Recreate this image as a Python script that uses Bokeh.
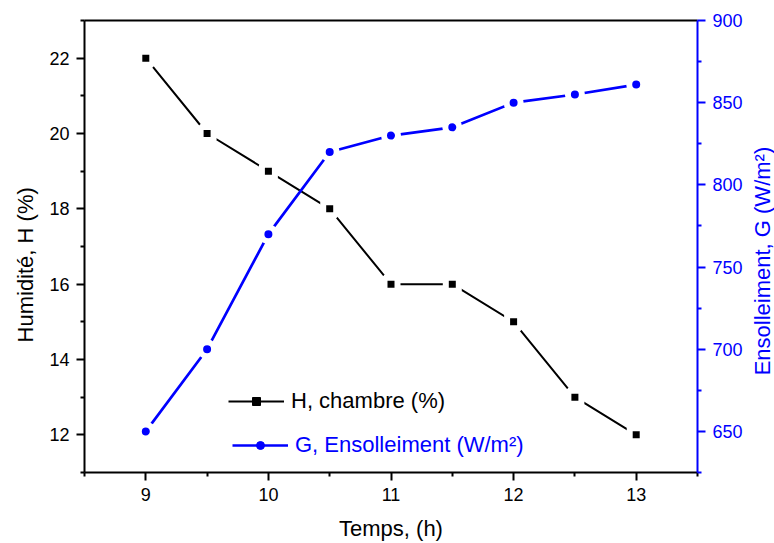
import math
from bokeh.plotting import figure
from bokeh.layouts import row
from bokeh.core.properties import value
from bokeh.models import LinearAxis, Range1d, FixedTicker, Legend, LegendItem
from bokeh.embed import file_html
from bokeh.resources import INLINE

# ---- data ----
time_h = [9, 9.5, 10, 10.5, 11, 11.5, 12, 12.5, 13]
humidity = [22, 20, 19, 18, 16, 16, 15, 13, 12]
irradiance = [650, 700, 770, 820, 830, 835, 850, 855, 861]

x_major = [9, 10, 11, 12, 13]
x_minor = [8.5, 9.5, 10.5, 11.5, 12.5, 13.5]
h_major = [12, 14, 16, 18, 20, 22]
h_minor = [11, 13, 15, 17, 19, 21, 23]
g_major = [650, 700, 750, 800, 850, 900]
g_minor = [625, 675, 725, 775, 825, 875]

label_h = "H, chambre (%)"
label_g = "G, Ensolleiment (W/m\u00b2)"
xtitle = "Temps, (h)"
ytitle = "Humidit\u00e9, H (%)"
y2title = "Ensolleiment, G (W/m\u00b2)"

FONT = "Liberation Sans"
BLUE = "#0000FF"
PAD = "\u00a0" * 6   # shifts the left title slightly below the frame centre, as in the original

W_MAIN, W_SIDE, H = 750, 24, 543

p = figure(width=W_MAIN, height=H, output_backend="svg", toolbar_location=None,
           x_range=Range1d(8.5, 13.5), y_range=Range1d(11, 23),
           min_border_left=84, min_border_right=53, min_border_top=20, min_border_bottom=70,
           outline_line_color=None, background_fill_color="white", border_fill_color="white")
p.extra_y_ranges = {"g": Range1d(625, 900)}
p.xgrid.visible = False
p.ygrid.visible = False

def style_axis(ax, color):
    ax.axis_line_color = color
    ax.axis_line_width = 2
    ax.major_tick_line_color = color
    ax.minor_tick_line_color = color
    ax.major_tick_line_width = 2
    ax.minor_tick_line_width = 2
    ax.major_tick_in = 0
    ax.major_tick_out = 8
    ax.minor_tick_in = 0
    ax.minor_tick_out = 4
    ax.major_label_text_color = color
    ax.major_label_text_font = FONT
    ax.major_label_text_font_size = "18px"
    ax.major_label_standoff = 7
    ax.axis_label_text_color = color
    ax.axis_label_text_font = FONT
    ax.axis_label_text_font_size = "22px"
    ax.axis_label_text_font_style = "normal"

xa = p.xaxis[0]
xa.ticker = FixedTicker(ticks=x_major, minor_ticks=x_minor)
xa.axis_label = xtitle
style_axis(xa, "black")
xa.axis_label_standoff = 12

ya = p.yaxis[0]
ya.ticker = FixedTicker(ticks=h_major, minor_ticks=h_minor)
ya.axis_label = ytitle + PAD
style_axis(ya, "black")
ya.axis_label_standoff = 8

ra = LinearAxis(y_range_name="g", ticker=FixedTicker(ticks=g_major, minor_ticks=g_minor))
style_axis(ra, BLUE)
p.add_layout(ra, "right")

ta = LinearAxis(ticker=FixedTicker(ticks=[], minor_ticks=[]))
ta.axis_line_color = "black"
ta.axis_line_width = 2
ta.major_tick_out = 0
ta.major_tick_in = 0
ta.minor_tick_out = 0
ta.minor_tick_in = 0
ta.major_label_text_font_size = "0px"
p.add_layout(ta, "above")

# lines
lh = p.line(time_h, humidity, line_color="black", line_width=2)
lg = p.line(time_h, irradiance, line_color=BLUE, line_width=2.7, y_range_name="g")
# markers with white halo (gap around markers)
mh = p.scatter(time_h, humidity, marker="square", size=13, fill_color="black",
               line_color="white", line_width=6)
mg = p.scatter(time_h, irradiance, marker="circle", size=14, fill_color=BLUE,
               line_color="white", line_width=6, y_range_name="g")

# legend-only glyphs (no data drawn)
nan = [float("nan")]
leg_lh = p.line(nan, nan, line_color="black", line_width=2)
leg_mh = p.scatter(nan, nan, marker="square", fill_color="black", line_color="black", line_width=1)
leg_lg = p.line(nan, nan, line_color=BLUE, line_width=2.7)
leg_mg = p.scatter(nan, nan, marker="circle", fill_color=BLUE, line_color=BLUE, line_width=1)

def make_legend(item, color, loc):
    lgd = Legend(items=[item], location=loc, padding=0, margin=0,
                 border_line_color=None, background_fill_alpha=0,
                 glyph_width=56, glyph_height=20, label_height=26, label_standoff=7,
                 label_text_font=FONT, label_text_font_size="22px",
                 label_text_color=color)
    p.add_layout(lgd, "center")

make_legend(LegendItem(label=label_h, renderers=[leg_lh, leg_mh]), "black", (144, 58))
make_legend(LegendItem(label=label_g, renderers=[leg_lg, leg_mg]), BLUE, (148, 14))

# narrow side strip holding the right-hand axis title (reads bottom to top)
side = figure(width=W_SIDE, height=H, output_backend="svg", toolbar_location=None,
              x_range=Range1d(0, 1), y_range=Range1d(0, H), min_border=0,
              outline_line_color=None, background_fill_color="white", border_fill_color="white")
side.axis.visible = False
side.xgrid.visible = False
side.ygrid.visible = False
side.text(x=[0.5], y=[H - 289], text=[y2title], angle=math.pi / 2,
          text_align="center", text_baseline="middle",
          text_font=value(FONT), text_font_size="22px", text_color=BLUE)

layout = row(p, side, spacing=0)
open("out.html", "w").write(file_html(layout, INLINE))
